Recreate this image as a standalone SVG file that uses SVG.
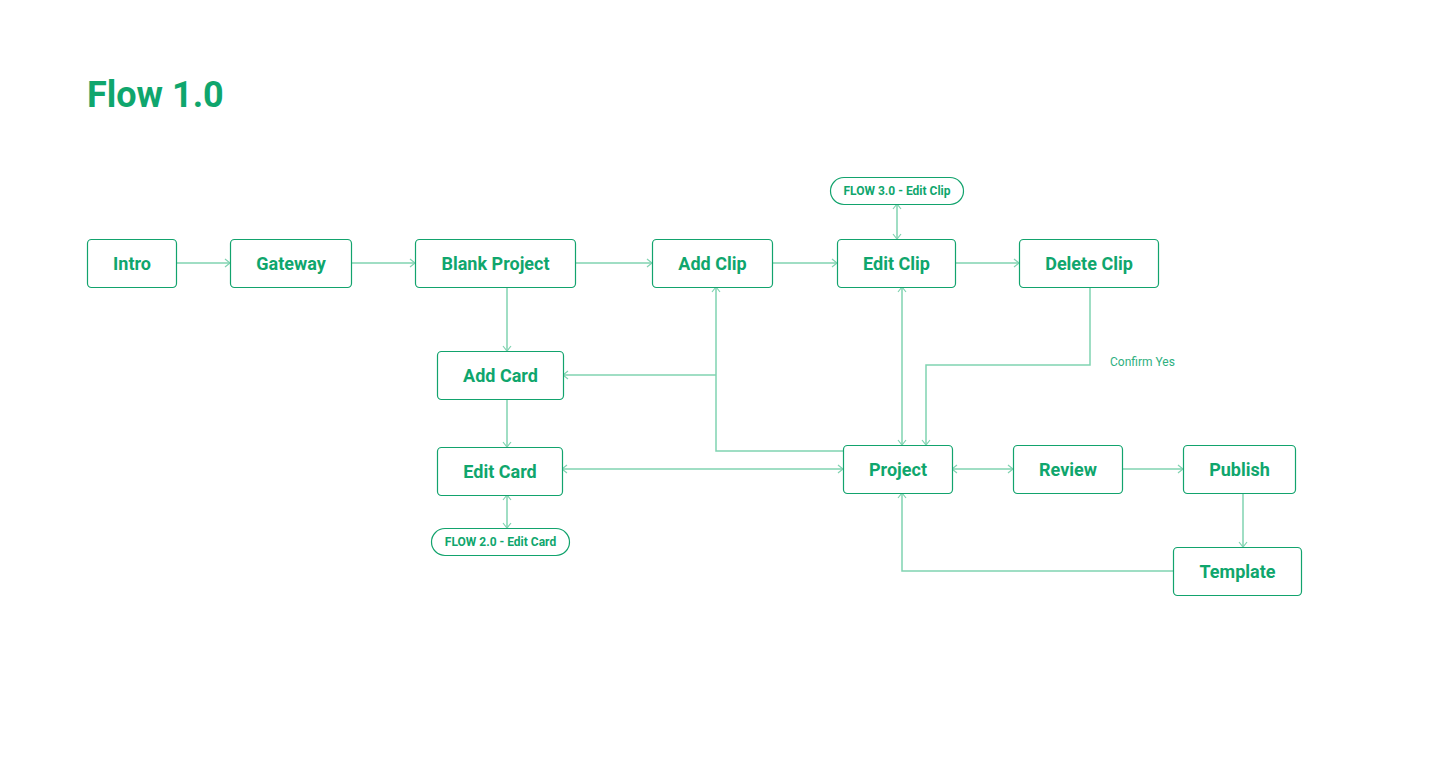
<svg xmlns="http://www.w3.org/2000/svg" width="1440" height="784" viewBox="0 0 1440 784">
<style>
.n rect{fill:#fff;stroke:#12a36d;stroke-width:1.2}
.n text{font-family:Roboto,"Liberation Sans",sans-serif;font-weight:700;font-size:18px;fill:#0fa66d;text-anchor:middle}
.p text{font-size:12px}
.c path{fill:none;stroke:#80d3b1;stroke-width:1.5}
.lbl{font-family:Roboto,"Liberation Sans",sans-serif;font-size:12px;fill:#2fb07f}
</style>
<defs>
<marker id="a" viewBox="0 0 10 10" refX="9" refY="5" markerWidth="10" markerHeight="10" markerUnits="userSpaceOnUse" orient="auto-start-reverse">
<path d="M4,1 L9,5 L4,9" fill="none" stroke="#80d3b1" stroke-width="1.2"/>
</marker>
</defs>
<rect width="1440" height="784" fill="#fff"/>
<text x="87" y="107" font-family="Roboto,'Liberation Sans',sans-serif" font-weight="700" font-size="36" fill="#0fa66d">Flow 1.0</text>
<g class="c">
<path d="M176,263 H230" marker-end="url(#a)"/>
<path d="M351,263 H415" marker-end="url(#a)"/>
<path d="M575,263 H652" marker-end="url(#a)"/>
<path d="M772,263 H837" marker-end="url(#a)"/>
<path d="M955,263 H1019" marker-end="url(#a)"/>
<path d="M897,204 V239" marker-start="url(#a)" marker-end="url(#a)"/>
<path d="M507,287 V351" marker-end="url(#a)"/>
<path d="M507,399 V447" marker-end="url(#a)"/>
<path d="M507,495 V528" marker-start="url(#a)" marker-end="url(#a)"/>
<path d="M902,287 V445" marker-start="url(#a)" marker-end="url(#a)"/>
<path d="M1090,287 V365 H926 V445" marker-end="url(#a)"/>
<path d="M843,451 H716 V287" marker-end="url(#a)"/>
<path d="M716,375 H563" marker-end="url(#a)"/>
<path d="M562,469 H843" marker-start="url(#a)" marker-end="url(#a)"/>
<path d="M952,469 H1013" marker-start="url(#a)" marker-end="url(#a)"/>
<path d="M1122,469 H1183" marker-end="url(#a)"/>
<path d="M1243,493 V547" marker-end="url(#a)"/>
<path d="M1173,571 H902 V493" marker-end="url(#a)"/>
</g>
<text class="lbl" x="1110" y="366">Confirm Yes</text>
<g id="intro" class="n"><rect x="87.5" y="239.5" width="89" height="48" rx="4"/><text x="132" y="270">Intro</text></g>
<g id="gateway" class="n"><rect x="230.5" y="239.5" width="121" height="48" rx="4"/><text x="291" y="270">Gateway</text></g>
<g id="blank-project" class="n"><rect x="415.5" y="239.5" width="160" height="48" rx="4"/><text x="495.5" y="270">Blank Project</text></g>
<g id="add-clip" class="n"><rect x="652.5" y="239.5" width="120" height="48" rx="4"/><text x="712.5" y="270">Add Clip</text></g>
<g id="edit-clip" class="n"><rect x="837.5" y="239.5" width="118" height="48" rx="4"/><text x="896.5" y="270">Edit Clip</text></g>
<g id="delete-clip" class="n"><rect x="1019.5" y="239.5" width="139" height="48" rx="4"/><text x="1089" y="270">Delete Clip</text></g>
<g id="flow3" class="n p"><rect x="830.5" y="177.5" width="133" height="27" rx="13.5"/><text x="897" y="195">FLOW 3.0 - Edit Clip</text></g>
<g id="add-card" class="n"><rect x="437.5" y="351.5" width="126" height="48" rx="4"/><text x="500.5" y="382">Add Card</text></g>
<g id="edit-card" class="n"><rect x="437.5" y="447.5" width="125" height="48" rx="4"/><text x="500" y="478">Edit Card</text></g>
<g id="flow2" class="n p"><rect x="431.5" y="528.5" width="138" height="27" rx="13.5"/><text x="500.5" y="546">FLOW 2.0 - Edit Card</text></g>
<g id="project" class="n"><rect x="843.5" y="445.5" width="109" height="48" rx="4"/><text x="898" y="476">Project</text></g>
<g id="review" class="n"><rect x="1013.5" y="445.5" width="109" height="48" rx="4"/><text x="1068" y="476">Review</text></g>
<g id="publish" class="n"><rect x="1183.5" y="445.5" width="112" height="48" rx="4"/><text x="1239.5" y="476">Publish</text></g>
<g id="template" class="n"><rect x="1173.5" y="547.5" width="128" height="48" rx="4"/><text x="1237.5" y="578">Template</text></g>
</svg>
